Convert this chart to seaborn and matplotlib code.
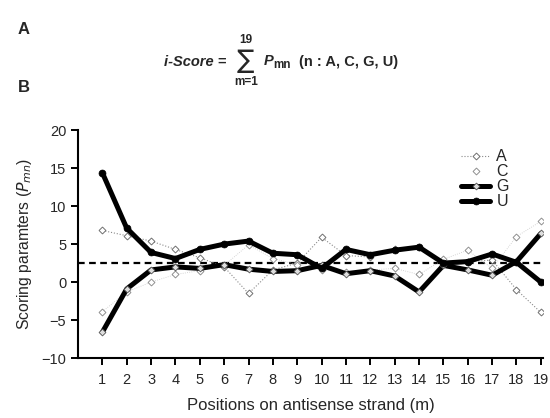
import numpy as np
import pandas as pd
import matplotlib
matplotlib.use('Agg')
import matplotlib.pyplot as plt
import seaborn as sns

# Values
positions = list(range(1, 20))
score_a = [6.8, 6.1, 5.4, 4.3, 3.2, 2.0, -1.5, 1.6, 2.5, 5.9, 3.5, 3.3, 4.3, 4.6, 2.5, 2.7, 2.9, -1.0, -4.0]
score_c = [-3.9, -1.3, 0.0, 1.0, 1.5, 2.2, 4.9, 3.1, 2.3, 1.6, 1.3, 1.6, 1.8, 1.0, 3.0, 4.2, 1.8, 6.0, 8.0]
score_g = [-6.6, -0.9, 1.6, 2.0, 1.8, 2.3, 1.7, 1.4, 1.5, 2.2, 1.1, 1.5, 0.8, -1.3, 2.2, 1.6, 0.9, 2.7, 6.4]
score_u = [14.4, 7.1, 3.9, 3.1, 4.3, 5.0, 5.4, 3.8, 3.6, 1.8, 4.3, 3.6, 4.2, 4.6, 2.5, 2.7, 3.7, 2.6, 0.0]
threshold = 2.5
y_ticks = [-10, -5, 0, 5, 10, 15, 20]

df = pd.DataFrame({'m': positions, 'A': score_a, 'C': score_c, 'G': score_g, 'U': score_u})

sns.set_theme(style="ticks")
plt.rcParams['font.family'] = ['Liberation Sans', 'DejaVu Sans']

fig = plt.figure(figsize=(5.5, 4.18), dpi=100)
ax = fig.add_axes([0.1418, 0.1435, 0.846, 0.545])

styles = {
    'A': dict(color='#8a8a8a', lw=0.8, ls=':', marker='D', ms=3.5, mfc='white', mec='#707070', mew=0.7),
    'C': dict(color='#c8c8c8', lw=0.6, ls=':', marker='D', ms=3.5, mfc='white', mec='#909090', mew=0.7),
    'G': dict(color='black', lw=3.6, ls='-', marker='D', ms=3.5, mfc='#dddddd', mec='#555555', mew=0.6),
    'U': dict(color='black', lw=3.6, ls='-', marker='o', ms=5, mfc='black', mec='black', mew=0.5),
}
for name in ['A', 'C', 'G', 'U']:
    st = styles[name]
    sns.lineplot(data=df, x='m', y=name, ax=ax, label=name, color=st['color'], lw=st['lw'],
                 ls=st['ls'], marker=st['marker'], markersize=st['ms'],
                 markerfacecolor=st['mfc'], markeredgecolor=st['mec'], markeredgewidth=st['mew'])

ax.axhline(threshold, color='black', lw=1.6, ls=(0, (3, 2)), zorder=1)

ax.set_xlim(0, 19.1)
ax.set_ylim(-10, 20)
ax.set_xticks(positions)
ax.set_yticks(y_ticks)
ax.set_yticklabels([str(t).replace('-', '\u2212') for t in y_ticks])
ax.tick_params(axis='both', labelsize=10.5, width=1.4, length=5, direction='out', color='black')
ax.tick_params(axis='x', pad=6)
for s in ['left', 'bottom']:
    ax.spines[s].set_linewidth(1.5)
    ax.spines[s].set_color('black')
sns.despine(ax=ax)

ax.set_xlabel('Positions on antisense strand (m)', fontsize=12, labelpad=8)
ax.set_ylabel(r'Scoring paramters ($P_{mn}$)', fontsize=11.3, labelpad=5)

leg = ax.legend(loc='upper right', bbox_to_anchor=(0.95, 0.965), frameon=False, fontsize=11.5,
                handlelength=1.8, handletextpad=0.4, labelspacing=0.0, borderpad=0.2)
leg.legend_handles[1].set_linestyle('none')

# Panel letters and formula
fig.text(18 / 550, 1 - 30 / 418, 'A', fontsize=12, fontweight='bold', va='center', ha='left')
fig.text(18 / 550, 1 - 88 / 418, 'B', fontsize=12, fontweight='bold', va='center', ha='left')
fig.text(226 / 550, 1 - 62 / 418, 'i-Score =', fontsize=10.5, fontweight='bold', style='italic',
         ha='right', va='center')
fig.text(245 / 550, 1 - 61 / 418, '\u2211', fontsize=18.5, ha='center', va='center',
         family=['DejaVu Sans'])
fig.text(246 / 550, 1 - 40 / 418, '19', fontsize=8.5, fontweight='bold', ha='center', va='center')
fig.text(246 / 550, 1 - 82 / 418, 'm=1', fontsize=8.5, fontweight='bold', ha='center', va='center')
fig.text(264 / 550, 1 - 61 / 418, 'P', fontsize=10.5, fontweight='bold', style='italic',
         ha='left', va='center')
fig.text(273 / 550, 1 - 65 / 418, 'mn', fontsize=8.5, fontweight='bold', ha='left', va='center')
fig.text(299 / 550, 1 - 62 / 418, '(n : A, C, G, U)', fontsize=10.5, fontweight='bold',
         ha='left', va='center')

fig.savefig('out.png', dpi=100)
